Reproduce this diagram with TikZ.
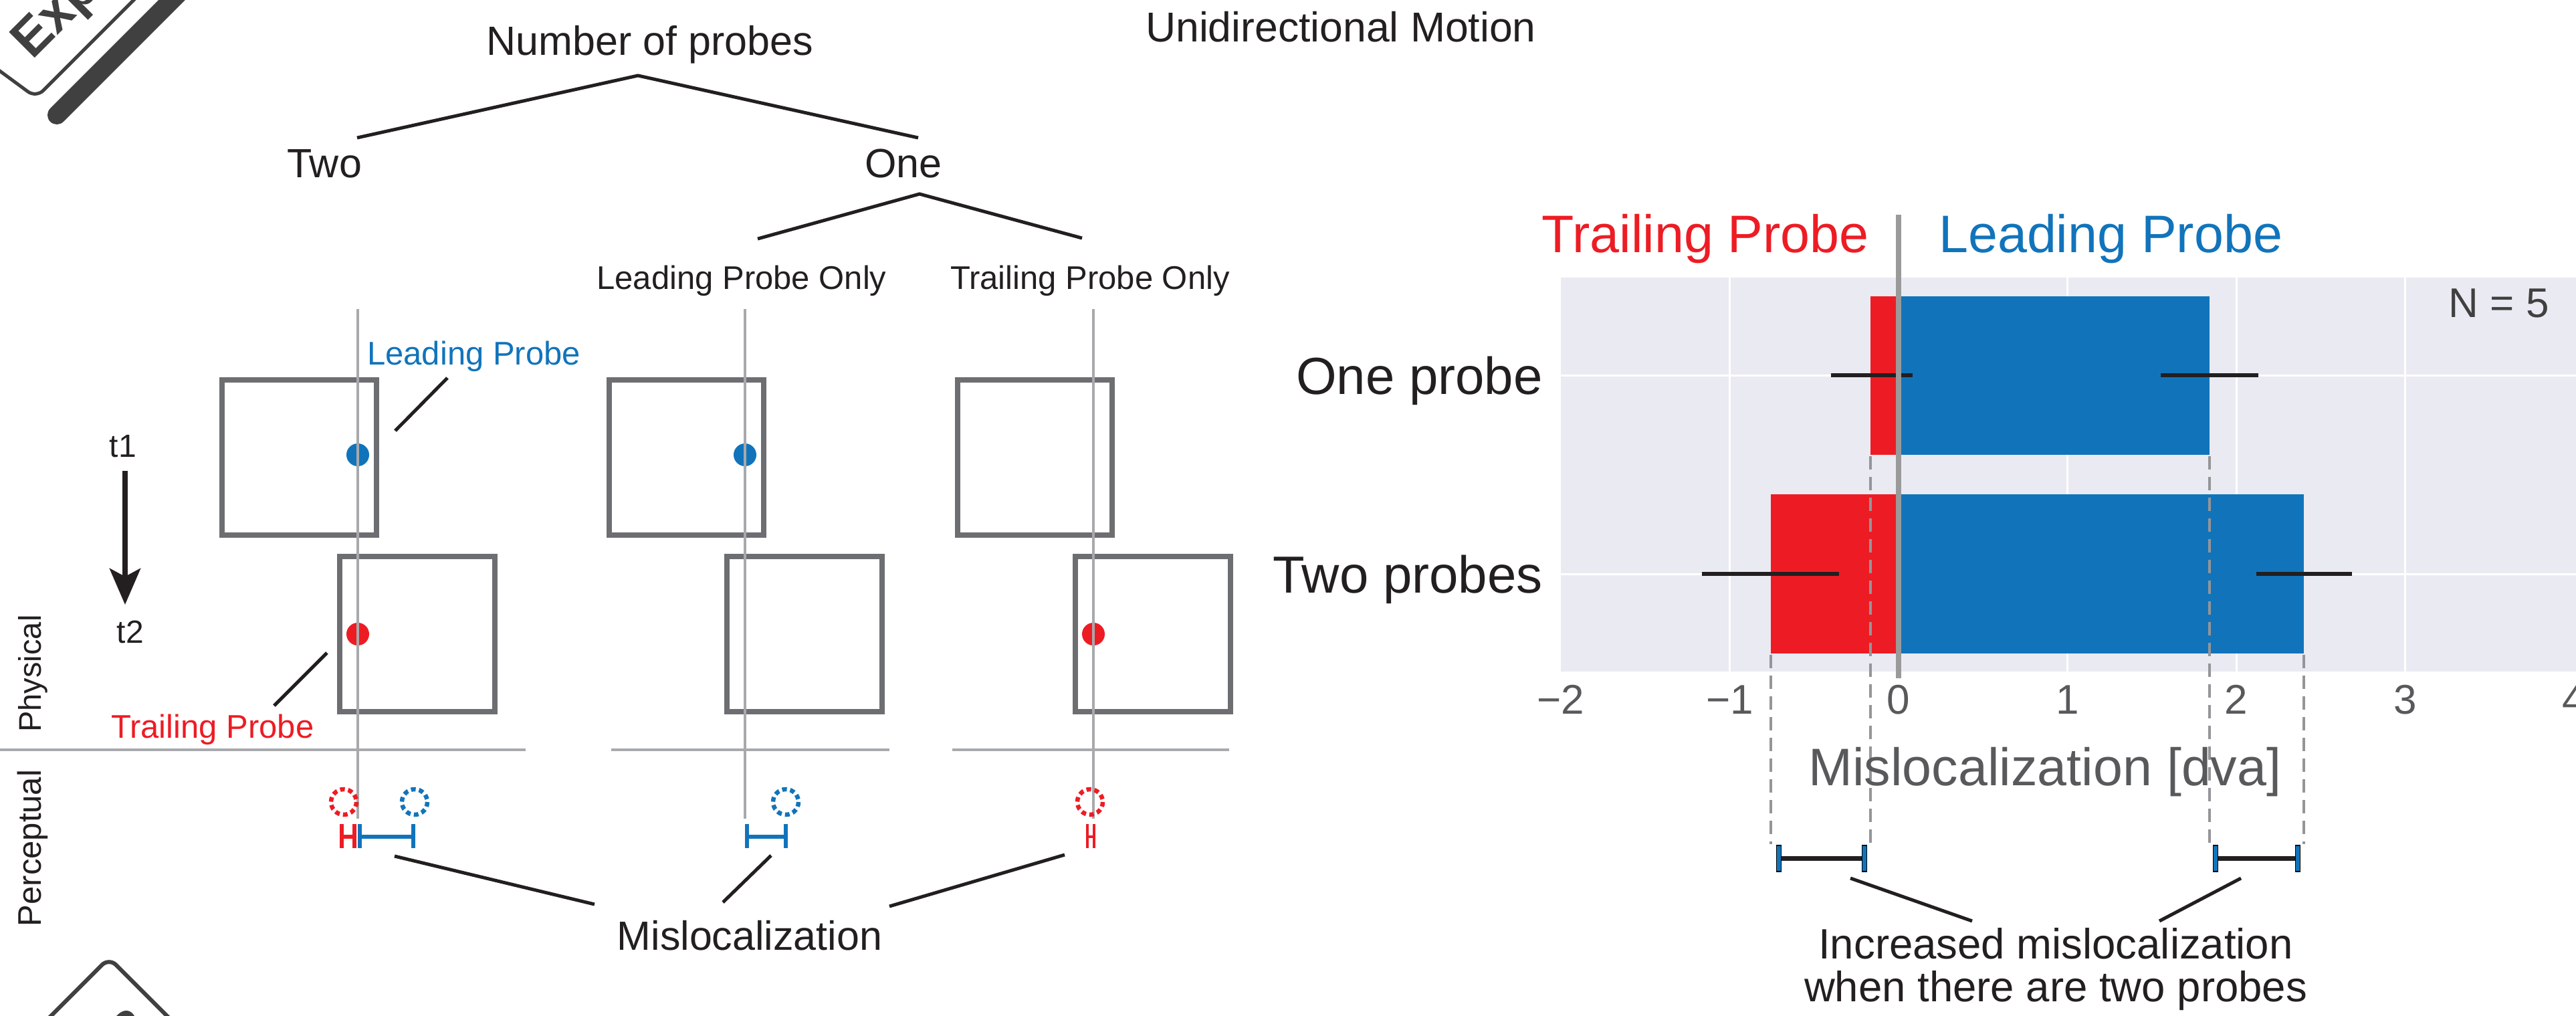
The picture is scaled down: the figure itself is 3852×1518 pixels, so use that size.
\documentclass[tikz,border=0pt]{standalone}
\usepackage{fontspec}
\setmainfont{Liberation Sans}
\usetikzlibrary{arrows.meta}

\definecolor{ink}{HTML}{231F20}
\definecolor{pblue}{HTML}{1174BB}
\definecolor{pred}{HTML}{ED1C24}
\definecolor{boxgray}{HTML}{6D6E71}
\definecolor{guidegray}{HTML}{A7A9AC}
\definecolor{panel}{HTML}{EAEAF2}
\definecolor{axisgray}{HTML}{58595B}
\definecolor{zerogray}{HTML}{9A9A9A}
\definecolor{dashgray}{HTML}{939598}
\definecolor{badgegray}{HTML}{404041}

\newcommand\fsz[1]{\fontsize{#1pt}{#1pt}\selectfont}

\begin{document}
\begin{tikzpicture}[x=1pt,y=-1pt,
  lbl/.style={inner sep=0pt, anchor=base, text=ink, font=\fsz{61}},
  smalllbl/.style={inner sep=0pt, anchor=base, text=ink, font=\fsz{49}},
  branch/.style={draw=ink, line width=5pt},
  pointer/.style={draw=ink, line width=5pt},
  frame/.style={draw=boxgray, line width=8pt},
  guide/.style={draw=guidegray, line width=4.5pt},
  percept/.style={dash pattern=on 7pt off 5pt, line width=6.5pt},
  brace/.style={line width=6pt},
  gridline/.style={draw=white, line width=3pt},
  ebar/.style={draw=ink, line width=6pt},
  dropline/.style={draw=dashgray, line width=4pt, dash pattern=on 20pt off 11pt},
  ticklbl/.style={inner sep=0pt, anchor=base, text=axisgray, font=\fsz{62}},
  rowlbl/.style={inner sep=0pt, anchor=base east, text=ink, font=\fsz{78}},
  badgetext/.style={inner sep=0pt, rotate=45, text=badgegray, font=\bfseries\fsz{79}},
]
\useasboundingbox (0,0) rectangle (3852,1518);
\clip (0,0) rectangle (3852,1518);

% ---------- corner badges ----------
\draw[badgegray, line width=5pt, rounded corners=15pt] (-150,-4) -- (54,146) -- (264,-64);
\draw[badgegray, line width=28pt, line cap=round] (85,172) -- (400,-143);
\node[badgetext, anchor=base west] (expbadge) at (48,91) {Exp};
\draw[badgegray, line width=6pt, rounded corners=15pt] (0,1595) -- (163,1432) -- (326,1595);
\node[badgetext, anchor=center] (numbadge) at (196,1538) {3};

% ---------- decision tree ----------
\node[lbl] (root) at (972,82) {Number of probes};
\node[lbl] (two) at (485,265) {Two};
\node[lbl] (one) at (1351,265) {One};
\node[smalllbl] (lead) at (1109,432) {Leading Probe Only};
\node[smalllbl] (trail) at (1630,432) {Trailing Probe Only};
\node[inner sep=0pt, anchor=base, text=ink, font=\fsz{62.5}] (title) at (2005,62) {Unidirectional Motion};

\coordinate (apexA) at (954,113);
\coordinate (twoEnd) at (534,206);
\coordinate (oneEnd) at (1373,206);
\coordinate (apexB) at (1375,290);
\coordinate (leadEnd) at (1133,357);
\coordinate (trailEnd) at (1618,356);
\draw[branch] (twoEnd) -- (apexA) -- (oneEnd);
\draw[branch] (leadEnd) -- (apexB) -- (trailEnd);

% ---------- time arrow ----------
\node[smalllbl, font=\fsz{48}] (t1) at (184,683) {t1};
\node[smalllbl, font=\fsz{48}] (t2) at (195,961) {t2};
\coordinate (arrStart) at (187,704);
\coordinate (arrEnd) at (187,904);
\draw[ink, line width=8pt, -{Stealth[length=54pt,width=46pt,inset=12pt]}] (arrStart) -- (arrEnd);

% ---------- side labels ----------
\node[inner sep=0pt, anchor=base, rotate=90, text=ink, font=\fsz{47}] (physical) at (61,1007) {Physical};
\node[inner sep=0pt, anchor=base, rotate=90, text=ink, font=\fsz{49}] (perceptual) at (61,1268) {Perceptual};

% ---------- stimulus frames ----------
\foreach \cx in {535,1114,1635}{
  \draw[frame] (\cx-203,568) rectangle (\cx+28,800);
  \draw[frame] (\cx-27,832) rectangle (\cx+205,1064);
}
% probes
\fill[pblue] (535,680) circle (17);
\fill[pred] (535,948) circle (17);
\fill[pblue] (1114,680) circle (17);
\fill[pred] (1635,948) circle (17);

% separators between physical and perceptual
\draw[guide] (0,1121) -- (786,1121);
\draw[guide] (914,1121) -- (1330,1121);
\draw[guide] (1424,1121) -- (1838,1121);
% vertical reference lines
\foreach \cx in {535,1114,1635}{
  \draw[guide] (\cx,462) -- (\cx,1224);
}

% probe labels and pointers
\node[smalllbl, anchor=base west, text=pblue] (leadLbl) at (549,545) {Leading Probe};
\node[smalllbl, anchor=base west, text=pred] (trailLbl) at (166,1103) {Trailing Probe};
\coordinate (leadTip) at (591,644);
\coordinate (leadTail) at (669,565);
\coordinate (trailTip) at (489,976);
\coordinate (trailTail) at (410,1055);
\draw[pointer] (leadTail) -- (leadTip);
\draw[pointer] (trailTail) -- (trailTip);

% ---------- perceived positions ----------
\draw[pred, percept] (514,1199) circle (19);
\draw[pblue, percept] (620,1199) circle (19);
\draw[pblue, percept] (1175,1199) circle (19);
\draw[pred, percept] (1630,1199) circle (19);

\draw[pred, brace] (510.5,1232) -- (510.5,1268) (510.5,1251) -- (530,1251) (530,1232) -- (530,1268);
\draw[pblue, brace] (538,1232) -- (538,1268) (538,1251) -- (617.5,1251) (617.5,1232) -- (617.5,1268);
\draw[pblue, brace] (1117,1232) -- (1117,1268) (1117,1251) -- (1174.5,1251) (1174.5,1232) -- (1174.5,1268);
\draw[pred, line width=4.5pt] (1626,1232) -- (1626,1268) (1626,1251) -- (1636,1251) (1636,1232) -- (1636,1268);

\node[lbl] (misloc) at (1121,1420) {Mislocalization};
\coordinate (mA) at (590,1280);
\coordinate (mAend) at (889,1352);
\coordinate (mB) at (1153,1279);
\coordinate (mBend) at (1081,1349);
\coordinate (mC) at (1592,1278);
\coordinate (mCend) at (1330,1355);
\draw[pointer] (mA) -- (mAend);
\draw[pointer] (mB) -- (mBend);
\draw[pointer] (mC) -- (mCend);

% ---------- bar chart ----------
\fill[panel] (2334,415) rectangle (3852,1004);
\foreach \gx in {2586.5,3091.5,3344,3596.5}{
  \draw[gridline] (\gx,415) -- (\gx,1004);
}
\foreach \gy in {561,858}{
  \draw[gridline] (2334,\gy) -- (3852,\gy);
}
% one probe
\fill[pred] (2797,442.5) rectangle (2839,680);
\fill[pblue] (2839,442.5) rectangle (3304,680);
% two probes
\fill[pred] (2648,739) rectangle (2839,977);
\fill[pblue] (2839,739) rectangle (3445,977);
% error bars
\draw[ebar] (2738,561) -- (2860,561);
\draw[ebar] (3231,561) -- (3377,561);
\draw[ebar] (2545,858) -- (2750,858);
\draw[ebar] (3374,858) -- (3517,858);
% zero line
\draw[draw=zerogray, line width=8pt] (2839,321) -- (2839,1014);
% drop lines to the difference brackets
\draw[dropline] (2797,682) -- (2797,1262);
\draw[dropline] (3304,682) -- (3304,1262);
\draw[dropline] (2648,979) -- (2648,1262);
\draw[dropline] (3445,979) -- (3445,1262);

% axis text
\node[inner sep=0pt, anchor=base east, text=pred, font=\fsz{79}] (trailHead) at (2795,377) {Trailing Probe};
\node[inner sep=0pt, anchor=base west, text=pblue, font=\fsz{79}] (leadHead) at (2899,377) {Leading Probe};
\node[rowlbl] (rowOne) at (2307,589) {One probe};
\node[rowlbl] (rowTwo) at (2307,886) {Two probes};
\node[inner sep=0pt, anchor=base east, text=badgegray, font=\fsz{62}] (nlbl) at (3812,474) {N = 5};
\node[ticklbl] (tm2) at (2334,1067) {−2};
\node[ticklbl] (tm1) at (2586.5,1067) {−1};
\node[ticklbl] (t0) at (2839,1067) {0};
\node[ticklbl] (tp1) at (3091.5,1067) {1};
\node[ticklbl] (tp2) at (3344,1067) {2};
\node[ticklbl] (tp3) at (3596.5,1067) {3};
\node[ticklbl] (tp4) at (3849,1067) {4};
\node[inner sep=0pt, anchor=base, text=axisgray, font=\fsz{79}] (xlabel) at (3058,1174) {Mislocalization [dva]};

% difference brackets
\draw[ink, line width=7pt] (2660,1283) -- (2788,1283);
\draw[ink, line width=7pt] (3313,1283) -- (3436,1283);
\foreach \bx in {2660,2788,3313,3436}{
  \filldraw[fill=pblue, draw=black, line width=1.5pt] (\bx-3.5,1264) rectangle (\bx+3.5,1303);
}
\node[inner sep=0pt, anchor=base, text=ink, font=\fsz{63.5}] (inc1) at (3074,1433) {Increased mislocalization};
\node[inner sep=0pt, anchor=base, text=ink, font=\fsz{63.5}] (inc2) at (3074,1497) {when there are two probes};
\coordinate (bL) at (2767,1313);
\coordinate (bLend) at (2949,1377);
\coordinate (bR) at (3351,1313);
\coordinate (bRend) at (3229,1377);
\draw[pointer] (bL) -- (bLend);
\draw[pointer] (bR) -- (bRend);
\end{tikzpicture}
\end{document}
